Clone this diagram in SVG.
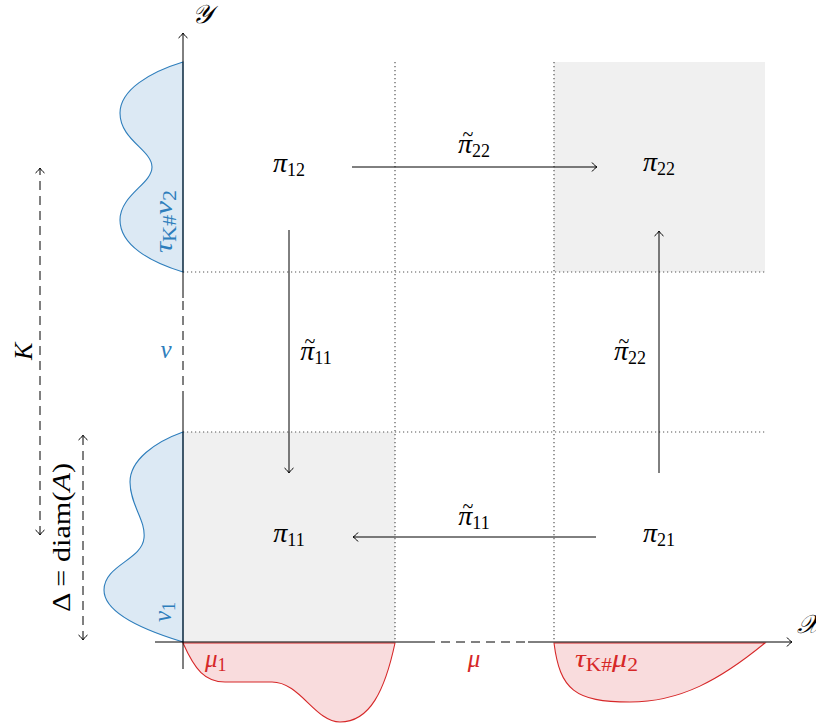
<svg xmlns="http://www.w3.org/2000/svg" width="816" height="727" viewBox="0 0 816 727">
<style>
  text { font-family: "Liberation Serif", "DejaVu Serif", serif; }
  .m { font-style: italic; font-size: 28px; fill: #000; }
  .sub { font-style: normal; font-size: 18px; }
  .til { font-style: normal; font-size: 20px; text-anchor: middle; }
  .ax { stroke: #000; stroke-width: 1; fill: none; }
  .dash { stroke-dasharray: 9 6; }
  .dot { stroke: #555; stroke-width: 1.2; stroke-dasharray: 1.2 2.8; fill: none; }
  .cell { fill: #f0f0f0; stroke: none; }
  .blue { fill: #dce9f4; stroke: #2e7ebc; stroke-width: 1.1; }
  .red { fill: #f9dcdd; stroke: #d62728; stroke-width: 1.1; }
  .bt { fill: #2e7ebc; font-style: italic; font-size: 25px; }
  .rt { fill: #d62728; font-style: italic; font-size: 25px; }
  .conn { stroke: #000; stroke-width: 1; fill: none; marker-end: url(#to); }
</style>
<defs>
  <marker id="to" viewBox="-7 -6 8 12" refX="0" refY="0" markerWidth="8" markerHeight="12" markerUnits="userSpaceOnUse" orient="auto">
    <path d="M-5,-4.5 C-3,-2 -1,-0.6 0,0 C-1,0.6 -3,2 -5,4.5" fill="none" stroke="#000" stroke-width="1"/>
  </marker>
  <marker id="toS" viewBox="-7 -6 8 12" refX="0" refY="0" markerWidth="8" markerHeight="12" markerUnits="userSpaceOnUse" orient="auto-start-reverse">
    <path d="M-5,-4.5 C-3,-2 -1,-0.6 0,0 C-1,0.6 -3,2 -5,4.5" fill="none" stroke="#000" stroke-width="1"/>
  </marker>
</defs>

<g id="background">
  <rect class="cell" x="183" y="432" width="212" height="210"/>
  <rect class="cell" x="554" y="62" width="211" height="210"/>
  <line class="dot" x1="395" y1="62" x2="395" y2="642"/>
  <line class="dot" x1="554" y1="62" x2="554" y2="642"/>
  <line class="dot" x1="183" y1="272" x2="765" y2="272"/>
  <line class="dot" x1="183" y1="432" x2="765" y2="432"/>
</g>

<g id="densities">
  <path class="blue" d="M183,62 C150,72 120,90 120,113 C120,140 152,150 152,167 C152,184 120,195 120,220 C120,245 150,262 183,272 Z"/>
  <path class="blue" d="M183,432 C155,442 130,460 130,482 C130,505 146,520 144,538 C142,560 104,565 104,590 C104,615 150,632 183,642 Z"/>
  <path class="red" d="M183,643 C195,670 205,682 225,682 L272,682 C300,682 315,722 340,722 C370,722 385,690 395,643 Z"/>
  <path class="red" d="M554,643 C560,690 575,702 630,702 C680,702 720,680 765,643 Z"/>
</g>

<g id="axes">
  <line class="ax" x1="155" y1="642" x2="426" y2="642"/>
  <line class="ax dash" x1="426" y1="642" x2="528" y2="642"/>
  <line class="ax" x1="528" y1="642" x2="792" y2="642" marker-end="url(#to)"/>
  <line class="ax" x1="183" y1="669" x2="183" y2="400"/>
  <line class="ax dash" x1="183" y1="400" x2="183" y2="298"/>
  <line class="ax" x1="183" y1="298" x2="183" y2="33" marker-end="url(#to)"/>
  <text x="797" y="633" style="font-family:'DejaVu Serif','DejaVu Sans',serif;font-size:26px;font-style:italic">𝒳</text>
  <text x="192" y="23" style="font-family:'DejaVu Serif','DejaVu Sans',serif;font-size:26px;font-style:italic">𝒴</text>
</g>

<g id="measures">
  <line class="ax dash" x1="40" y1="535" x2="40" y2="168" marker-start="url(#toS)" marker-end="url(#to)"/>
  <text transform="translate(32,360) rotate(-90)" class="m" style="font-size:26px">K</text>
  <line class="ax dash" x1="83" y1="640" x2="83" y2="435" marker-start="url(#toS)" marker-end="url(#to)"/>
  <text transform="translate(70,612) rotate(-90)" style="font-size:26px" textLength="149" lengthAdjust="spacingAndGlyphs">Δ = diam(<tspan font-style="italic">A</tspan>)</text>
  <text transform="translate(172,253) rotate(-90)" class="bt" textLength="63" lengthAdjust="spacingAndGlyphs">τ<tspan class="sub" dy="4">K#</tspan><tspan dy="-4">ν</tspan><tspan class="sub" dy="4">2</tspan></text>
  <text transform="translate(171,622) rotate(-90)" class="bt">ν<tspan class="sub" dy="4">1</tspan></text>
  <text x="166" y="358" class="bt" text-anchor="middle">ν</text>
  <text x="205" y="667" class="rt">μ<tspan class="sub" dy="4">1</tspan></text>
  <text x="474" y="667" class="rt" text-anchor="middle">μ</text>
  <text x="575" y="667" class="rt" textLength="63" lengthAdjust="spacingAndGlyphs">τ<tspan class="sub" dy="4">K#</tspan><tspan dy="-4">μ</tspan><tspan class="sub" dy="4">2</tspan></text>
</g>

<g id="n12"><text x="289" y="172" class="m" text-anchor="middle">π<tspan class="sub" dy="4">12</tspan></text></g>
<g id="n22"><text x="659" y="171" class="m" text-anchor="middle">π<tspan class="sub" dy="4">22</tspan></text></g>
<g id="n11"><text x="289" y="542" class="m" text-anchor="middle">π<tspan class="sub" dy="4">11</tspan></text></g>
<g id="n21"><text x="659" y="542" class="m" text-anchor="middle">π<tspan class="sub" dy="4">21</tspan></text></g>

<g id="connectors">
  <line class="conn" x1="352" y1="167" x2="597" y2="167"/>
  <line class="conn" x1="289" y1="230" x2="289" y2="473"/>
  <line class="conn" x1="659" y1="473" x2="659" y2="231"/>
  <line class="conn" x1="596" y1="537" x2="353" y2="537"/>
  <text x="474" y="153" class="m" text-anchor="middle">π<tspan class="sub" dy="4">22</tspan><tspan class="til" x="468" y="141">~</tspan></text>
  <text x="316" y="360" class="m" text-anchor="middle">π<tspan class="sub" dy="4">11</tspan><tspan class="til" x="310" y="348">~</tspan></text>
  <text x="630" y="360" class="m" text-anchor="middle">π<tspan class="sub" dy="4">22</tspan><tspan class="til" x="624" y="348">~</tspan></text>
  <text x="474" y="525" class="m" text-anchor="middle">π<tspan class="sub" dy="4">11</tspan><tspan class="til" x="468" y="513">~</tspan></text>
</g>
</svg>
